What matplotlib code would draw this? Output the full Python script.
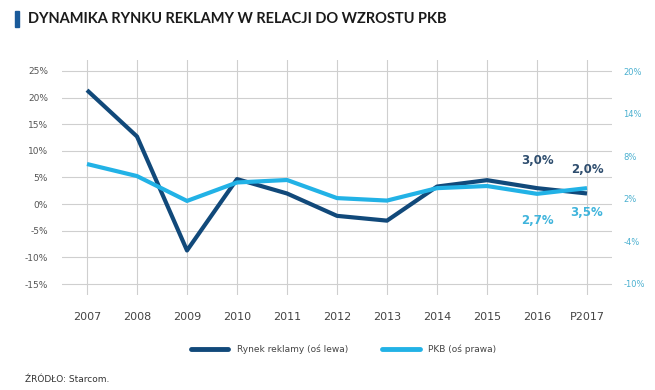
import matplotlib.pyplot as plt
import numpy as np

# data
years = ['2007', '2008', '2009', '2010', '2011', '2012', '2013', '2014', '2015', '2016', 'P2017']
rynek = [21.4, 12.7, -8.7, 4.7, 2.0, -2.2, -3.1, 3.3, 4.5, 3.0, 2.0]
pkb = [6.9, 5.2, 1.7, 4.3, 4.65, 2.1, 1.75, 3.5, 3.8, 2.7, 3.5]
left_ticks = [25, 20, 15, 10, 5, 0, -5, -10, -15]
right_ticks = [20, 14, 8, 2, -4, -10]

dark = '#11497a'
light = '#22b2e6'

fig = plt.figure(figsize=(6.55, 3.9), dpi=100)
ax = fig.add_axes([62 / 655, 1 - 295 / 390, 550 / 655, 235 / 390])
ax2 = ax.twinx()

x = np.arange(len(years))
ax.plot(x, rynek, color=dark, lw=3, solid_capstyle='butt', zorder=3)
ax2.plot(x, pkb, color=light, lw=3, solid_capstyle='butt', zorder=3)

ax.set_xlim(-0.5, len(years) - 0.5)
ax.set_ylim(-17.06, 27.06)
ax2.set_ylim(-11.55, 21.55)

ax.set_yticks(left_ticks)
ax.set_yticklabels(['{}%'.format(t) for t in left_ticks], fontsize=6.5, color='#555555')
ax2.set_yticks(right_ticks)
ax2.set_yticklabels(['{}%'.format(t) for t in right_ticks], fontsize=6, color='#4ab0d0')
ax.set_xticks(x)
ax.set_xticklabels(years, fontsize=8, color='#444444')

ax.tick_params(axis='y', length=0, pad=10)
ax2.tick_params(axis='y', length=0, pad=8)
ax.tick_params(axis='x', length=0, pad=12)

ax.grid(True, color='#cfcfcf', lw=0.8)
ax.set_axisbelow(True)
for a in (ax, ax2):
    for s in a.spines.values():
        s.set_visible(False)

# value labels for the last two years
ax.text(9, 3.0 + 5.2, '3,0%', ha='center', va='center', fontsize=8.5, color='#2e4d6e', fontweight='semibold')
ax.text(10, 2.0 + 4.5, '2,0%', ha='center', va='center', fontsize=8.5, color='#2e4d6e', fontweight='semibold')
ax2.text(9, 2.7 - 3.8, '2,7%', ha='center', va='center', fontsize=8.5, color='#3fb4dc', fontweight='semibold')
ax2.text(10, 3.5 - 3.5, '3,5%', ha='center', va='center', fontsize=8.5, color='#3fb4dc', fontweight='semibold')

# title with the blue bar
fig.patches.append(plt.Rectangle((15 / 655, 1 - 27 / 390), 3.5 / 655, 16 / 390,
                                 transform=fig.transFigure, color='#1a5a9a'))
fig.text(28 / 655, 1 - 19 / 390, 'DYNAMIKA RYNKU REKLAMY W RELACJI DO WZROSTU PKB',
         fontsize=10.5, fontweight='bold', color='#1a1a1a', va='center',
         family=['Lato', 'DejaVu Sans'])

# legend
fig.lines.append(plt.Line2D([191 / 655, 228 / 655], [1 - 349 / 390] * 2, color=dark, lw=3.5,
                            solid_capstyle='round', transform=fig.transFigure))
fig.text(237 / 655, 1 - 349 / 390, 'Rynek reklamy (oś lewa)', fontsize=6.5, color='#444444', va='center')
fig.lines.append(plt.Line2D([382 / 655, 420 / 655], [1 - 349 / 390] * 2, color=light, lw=3.5,
                            solid_capstyle='round', transform=fig.transFigure))
fig.text(428 / 655, 1 - 349 / 390, 'PKB (oś prawa)', fontsize=6.5, color='#444444', va='center')

fig.text(25 / 655, 1 - 380 / 390, 'ŹRÓDŁO: Starcom.', fontsize=6.5, color='#333333', va='center')

fig.savefig('out.png', dpi=100, facecolor='white')
